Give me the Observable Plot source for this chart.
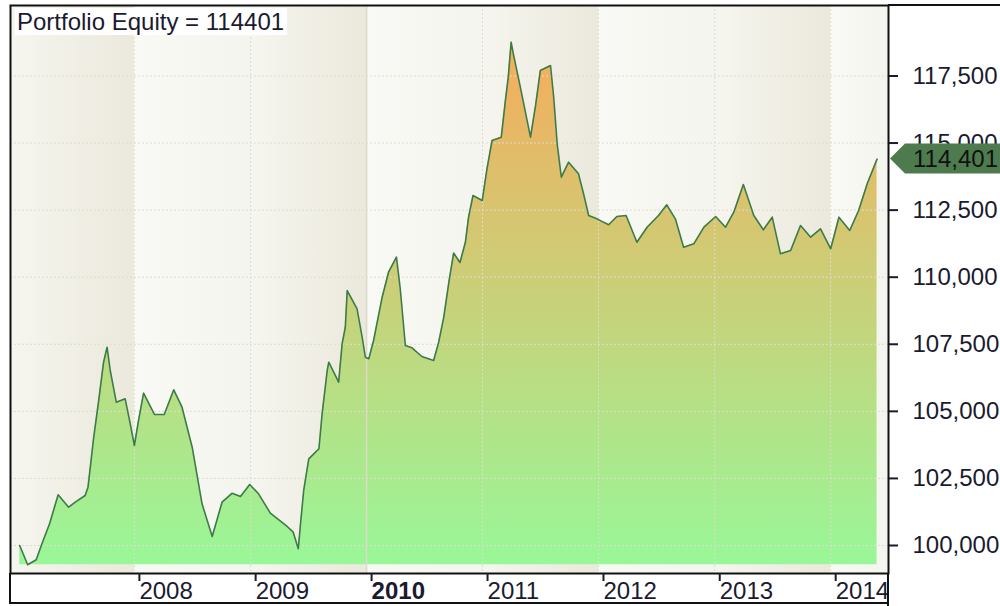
<!DOCTYPE html>
<html><head><meta charset="utf-8">
<script src="https://cdn.jsdelivr.net/npm/d3@7"></script>
<script src="https://cdn.jsdelivr.net/npm/@observablehq/plot@0.6"></script>
<style>body{margin:0;background:#fff;} #chart svg{display:block}</style>
</head><body><div id="chart"></div>
<script>
const seriesName = "Portfolio Equity";
const dates = [
"2007-01-05","2007-01-30","2007-02-26","2007-03-16","2007-04-09","2007-05-06","2007-06-08","2007-06-29","2007-07-30","2007-08-08",
"2007-08-26","2007-09-10","2007-09-26","2007-10-07","2007-10-17","2007-11-05","2007-12-03","2007-12-19","2008-01-01","2008-01-14",
"2008-01-30","2008-03-04","2008-04-04","2008-05-04","2008-05-30","2008-07-01","2008-08-01","2008-09-02","2008-10-03","2008-11-04",
"2008-11-30","2008-12-29","2009-01-26","2009-03-04","2009-04-26","2009-05-15","2009-05-31","2009-06-07","2009-06-17","2009-07-03",
"2009-08-04","2009-08-14","2009-08-30","2009-09-04","2009-10-05","2009-10-16","2009-10-26","2009-11-01","2009-12-02","2009-12-18",
"2009-12-28","2010-01-08","2010-01-23","2010-02-19","2010-03-11","2010-04-05","2010-04-17","2010-05-03","2010-05-24","2010-06-24",
"2010-07-31","2010-08-16","2010-09-01","2010-09-17","2010-10-02","2010-10-22","2010-11-08","2010-11-18","2010-12-02","2010-12-31",
"2011-01-15","2011-01-31","2011-03-01","2011-03-14","2011-03-23","2011-04-01","2011-04-08","2011-04-30","2011-06-01","2011-06-17",
"2011-07-02","2011-08-03","2011-08-13","2011-08-24","2011-09-06","2011-09-29","2011-10-30","2011-11-15","2011-12-01","2011-12-27",
"2012-02-02","2012-02-28","2012-03-28","2012-05-01","2012-06-02","2012-07-08","2012-08-03","2012-08-30","2012-09-25","2012-10-27",
"2012-11-28","2013-01-04","2013-02-04","2013-03-02","2013-04-01","2013-05-04","2013-06-03","2013-07-01","2013-07-27","2013-08-28",
"2013-09-28","2013-10-30","2013-11-30","2014-01-01","2014-01-27","2014-03-02","2014-03-30","2014-04-26","2014-05-27"
];
const equity = [
100000,99281,99467,100063,100809,101890,101428,101614,101864,102173,
104036,105341,106832,107391,106523,105341,105468,104536,103727,104659,
105677,104883,104883,105803,105155,103664,101554,100335,101614,101949,
101826,102273,101927,101204,100708,100496,99877,100809,102050,103231,
103604,104909,106523,106832,106087,107518,108137,109504,108822,107764,
107018,106960,107641,109255,110187,110746,109568,107455,107368,107045,
106896,107578,108510,109815,110900,110550,111300,112237,113045,112859,
114041,115096,115220,116590,117455,118760,118326,117082,115220,116401,
117705,117891,116712,114973,113729,114286,113854,113108,112300,112175,
111953,112263,112300,111305,111864,112300,112698,112175,111118,111245,
111864,112263,111864,112423,113456,112300,111766,112237,110872,110995,
111927,111491,111804,111059,112237,111741,112487,113481,114401
];
const yTicks = [100000,102500,105000,107500,110000,112500,115000,117500];
const yearTicks = ["2008-01-01","2009-01-01","2010-01-01","2011-01-01","2012-01-01","2013-01-01","2014-01-01"];
const boldYear = 2010;

(function(){
const data = dates.map((d,i)=>({date:new Date(d), value:equity[i]}));
const years = yearTicks.map(d=>new Date(d));
const xDomain = [new Date("2006-12-07"), new Date("2014-07-02")];
const yDomain = [98956, 120127];
const edges = [xDomain[0], ...years, xDomain[1]];
const bands = edges.slice(0,-1).map((s,i)=>({start:s, end:edges[i+1], dark:i%2===0}));
const base = d3.min(equity);
const lastVal = equity[equity.length-1];
const ink = "#1a1a30";
const font = "Arial, 'Liberation Sans', sans-serif";

const plot = Plot.plot({
  width:1000, height:606,
  marginLeft:10, marginRight:112, marginTop:5, marginBottom:33,
  style:{fontFamily:font, background:"#fff", overflow:"visible"},
  x:{type:"utc", domain:xDomain},
  y:{domain:yDomain},
  marks:[
    Plot.rect(bands.filter(d=>d.dark), {x1:"start", x2:"end", fill:"url(#bandDark)"}),
    Plot.rect(bands.filter(d=>!d.dark), {x1:"start", x2:"end", fill:"url(#bandLight)"}),
    Plot.areaY(data, {x:"date", y1:base, y2:"value", fill:"url(#areaGrad)"}),
    Plot.ruleY(yTicks, {stroke:"#DDDDCC", strokeDasharray:"2,2"}),
    Plot.ruleX(years.filter(d=>d.getUTCFullYear()!==boldYear), {stroke:"#DDDDCC", strokeDasharray:"2,2"}),
    Plot.ruleX(years.filter(d=>d.getUTCFullYear()===boldYear), {stroke:"#DEDACA", strokeWidth:1.5}),
    Plot.line(data, {x:"date", y:"value", stroke:"#3D7B47", strokeWidth:1.6}),
    Plot.frame({stroke:"#111", strokeWidth:2}),
    Plot.axisY(yTicks, {anchor:"right", tickFormat:d3.format(","), tickSize:9, tickPadding:15, fontSize:24, label:null, color:ink, strokeWidth:2}),
    Plot.axisX(years, {anchor:"bottom", tickFormat:d3.utcFormat("%Y"), tickSize:8, tickPadding:0, textAnchor:"start", dx:5, fontSize:24, label:null, color:ink, strokeWidth:2})
  ]
});
document.getElementById("chart").appendChild(plot);

const svg = d3.select(plot);
const defs = svg.insert("defs", ":first-child");
function grad(id, x2, y2, stops){
  const g = defs.append("linearGradient").attr("id", id).attr("x1",0).attr("y1",0).attr("x2",x2).attr("y2",y2);
  stops.forEach(([o,c])=>g.append("stop").attr("offset",o).attr("stop-color",c));
}
grad("bandDark",1,0,[[0,"#F6F5EF"],[1,"#EBE9DC"]]);
grad("bandLight",1,0,[[0,"#F9F9F5"],[1,"#F5F5EF"]]);
grad("areaGrad",0,1,[[0,"#F6AC5C"],[1,"#99F798"]]);

svg.selectAll("text").filter(function(){return this.textContent===String(boldYear);}).attr("font-weight","bold");

const xr = plot.scale("x").range, yr = plot.scale("y").range;
const pL = xr[0], pR = xr[1], pB = yr[0], pT = yr[1];
const deco = svg.append("g").attr("stroke","#111").attr("stroke-width",2);
deco.append("line").attr("x1",pL).attr("x2",pL).attr("y1",pB).attr("y2",604);
deco.append("line").attr("x1",pL).attr("x2",pR).attr("y1",603).attr("y2",603);
deco.append("line").attr("x1",pR).attr("x2",pR).attr("y1",pB).attr("y2",606);
deco.append("line").attr("x1",pR).attr("x2",1000).attr("y1",pT).attr("y2",pT);

const tg = svg.append("g");
const tr = tg.append("rect").attr("fill","#fff");
const tt = tg.append("text").attr("x",17).attr("y",30).attr("font-size",24).attr("fill",ink)
  .attr("font-family",font).attr("text-anchor","start")
  .text(`${seriesName} = ${lastVal}`);
const bb = tt.node().getBBox();
tr.attr("x",15).attr("y",8).attr("width",bb.width+5).attr("height",27);

const y0 = plot.scale("y").apply(lastVal);
const tx = pR + 2;
svg.append("polygon").attr("fill","#4D7B4D")
  .attr("points",`${tx},${y0} ${tx+15},${y0-15} 1000,${y0-15} 1000,${y0+15} ${tx+15},${y0+15}`);
svg.append("text").attr("x",913).attr("y",y0).attr("dy","0.36em").attr("font-size",24).attr("fill","#111")
  .attr("font-family",font).attr("text-anchor","start")
  .text(d3.format(",")(lastVal));
})();
</script>
</body></html>
